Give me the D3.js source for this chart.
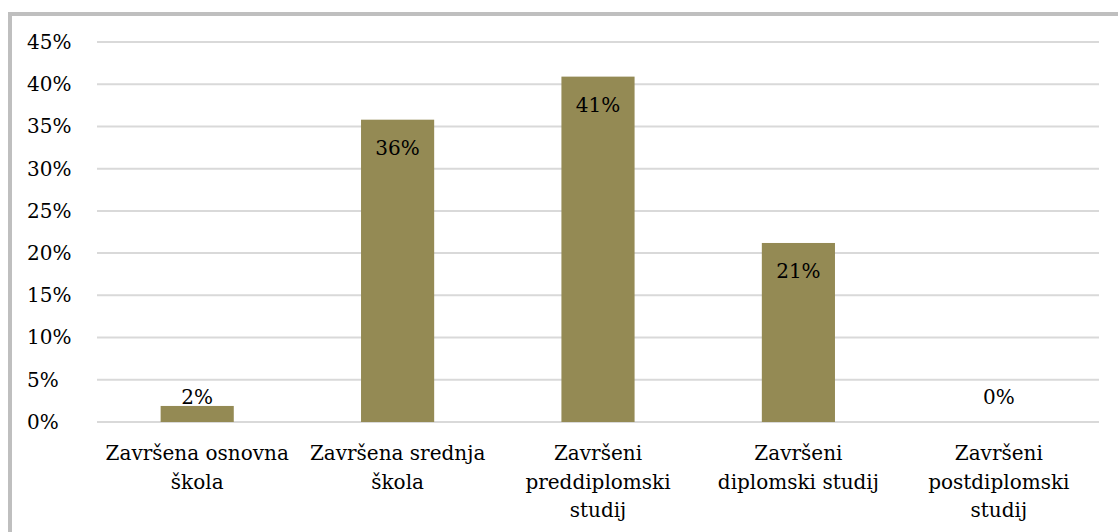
<!DOCTYPE html>
<html>
<head>
<meta charset="utf-8">
<script src="https://cdn.jsdelivr.net/npm/d3@7"></script>
<style>
  body { margin: 0; background: #fff; }
  svg text { font-family: "DejaVu Serif", serif; fill: #000; }
</style>
</head>
<body>
<div id="chart"></div>
<script>

// data
var categories = ["osnovna", "srednja", "preddiplomski", "diplomski", "postdiplomski"];
var labelLines = [
    ["Završena osnovna", "škola"],
    ["Završena srednja", "škola"],
    ["Završeni", "preddiplomski", "studij"],
    ["Završeni", "diplomski studij"],
    ["Završeni", "postdiplomski", "studij"]
];
var values = [0.019, 0.358, 0.409, 0.212, 0];
var valueLabels = ["2%", "36%", "41%", "21%", "0%"];
var yTicks = [0, 0.05, 0.10, 0.15, 0.20, 0.25, 0.30, 0.35, 0.40, 0.45];

var W = 1118, H = 532;
var margin = { top: 42, right: 19, bottom: 110, left: 97 },
    width = W - margin.left - margin.right,
    height = 422 - margin.top;

var svg = d3.select("#chart")
    .append("svg")
    .attr("width", W)
    .attr("height", H);

// outer frame (bottom and right fall outside the picture)
svg.append("rect")
    .attr("x", 10).attr("y", 14)
    .attr("width", W + 20).attr("height", H + 20)
    .attr("fill", "none")
    .attr("stroke", "#bfbfbf")
    .attr("stroke-width", 4);

var g = svg.append("g")
    .attr("transform", "translate(" + margin.left + "," + margin.top + ")");

var x = d3.scaleBand().domain(categories).range([0, width]).paddingInner(0.635).paddingOuter(0.3175);
var y = d3.scaleLinear().domain([0, 0.45]).range([height, 0]);

// gridlines
g.selectAll("line.grid")
    .data(yTicks)
    .join("line")
    .attr("class", "grid")
    .attr("x1", 0).attr("x2", width)
    .attr("y1", function (d) { return y(d) })
    .attr("y2", function (d) { return y(d) })
    .attr("stroke", "#d9d9d9")
    .attr("stroke-width", 2);

// y axis labels
var yAxis = g.append("g")
    .call(d3.axisLeft(y).tickValues(yTicks).tickFormat(d3.format(".0%")).tickSize(0));
yAxis.select(".domain").remove();
yAxis.selectAll("text")
    .style("font-size", "20px")
    .attr("text-anchor", "start")
    .attr("x", -70);

// bars
g.selectAll("rect.bar")
    .data(values)
    .join("rect")
    .attr("class", "bar")
    .attr("x", function (d, i) { return x(categories[i]) })
    .attr("y", function (d) { return y(d) })
    .attr("width", x.bandwidth())
    .attr("height", function (d) { return height - y(d) })
    .attr("fill", "#948a54");

// value labels
g.selectAll("text.val")
    .data(values)
    .join("text")
    .attr("class", "val")
    .attr("x", function (d, i) { return x(categories[i]) + x.bandwidth() / 2 })
    .attr("y", function (d) { return Math.min(y(d) + 28, height - 25) })
    .attr("dy", "0.35em")
    .attr("text-anchor", "middle")
    .style("font-size", "20px")
    .text(function (d, i) { return valueLabels[i] });

// category labels
var xl = g.selectAll("text.cat")
    .data(labelLines)
    .join("text")
    .attr("class", "cat")
    .attr("text-anchor", "middle")
    .style("font-size", "20px")
    .attr("transform", function (d, i) {
        return "translate(" + (x(categories[i]) + x.bandwidth() / 2) + "," + (height + 31) + ")";
    });

xl.selectAll("tspan")
    .data(function (d) { return d })
    .join("tspan")
    .attr("x", 0)
    .attr("y", function (d, i) { return i * 28.5 })
    .attr("dy", "0.35em")
    .text(function (d) { return d });

</script>
</body>
</html>
